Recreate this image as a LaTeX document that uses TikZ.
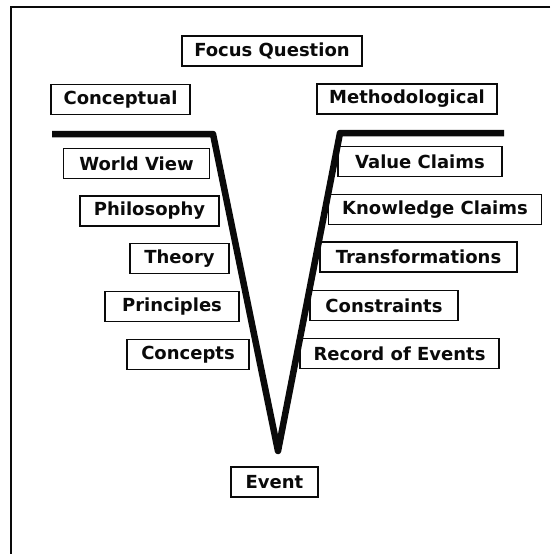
\documentclass[tikz,border=0pt]{standalone}
\usepackage{fontspec}
\setmainfont{DejaVu Sans}
\usepackage{tikz}
\usetikzlibrary{positioning}
\usepackage{xcolor}
\definecolor{vink}{RGB}{10,10,10}
\tikzset{
    tag/.style={
        draw=vink,line width=1.8pt,inner sep=0pt,
        minimum height=30pt,minimum width=#1,
        font=\fontsize{18}{20}\selectfont\bfseries,text=vink
    },
    tag/.default=120pt,
    vee/.style={
        line width=6.5pt,draw=vink,line join=round
    },
    frame/.style={
        line width=1.8pt,draw=vink
    }
}

\begin{document}
\begin{tikzpicture}[x=1pt,y=-1pt]
\useasboundingbox (0,0) rectangle (550,554);

% frame, open at right and bottom
\draw[frame](550,7)--(11,7)--(11,554);

\node[tag=180pt] at (272,51) (focus){Focus Question};
\node[tag=139pt] at (120.5,99.5) (concep){Conceptual};
\node[tag=180pt] at (407,99) (method){Methodological};

% the V
\coordinate (vl) at (52,134);
\coordinate (vlc) at (213,134);
\coordinate (vb) at (278,451);
\coordinate (vrc) at (340,133);
\coordinate (vr) at (504,133);
\draw[vee](vl)--(vlc)--(vb)--(vrc)--(vr);

% left side
\node[tag=146pt] at (136.5,163.5) (world){World View};
\node[tag=139pt] at (149.5,211) (philo){Philosophy};
\node[tag=99pt] at (179.5,258.5) (theory){Theory};
\node[tag=134pt] at (172,306.5) (princ){Principles};
\node[tag=122pt] at (188,354.5) (concepts){Concepts};

% right side
\node[tag=164pt] at (420,161.5) (value){Value Claims};
\node[tag=213pt] at (435,209.5) (know){Knowledge Claims};
\node[tag=197pt] at (418.5,257) (trans){Transformations};
\node[tag=148pt] at (384,305.5) (constr){Constraints};
\node[tag=199pt] at (399.5,353.5) (record){Record of Events};

\node[tag=87pt] at (274.5,482) (event){Event};

\end{tikzpicture}
\end{document}
